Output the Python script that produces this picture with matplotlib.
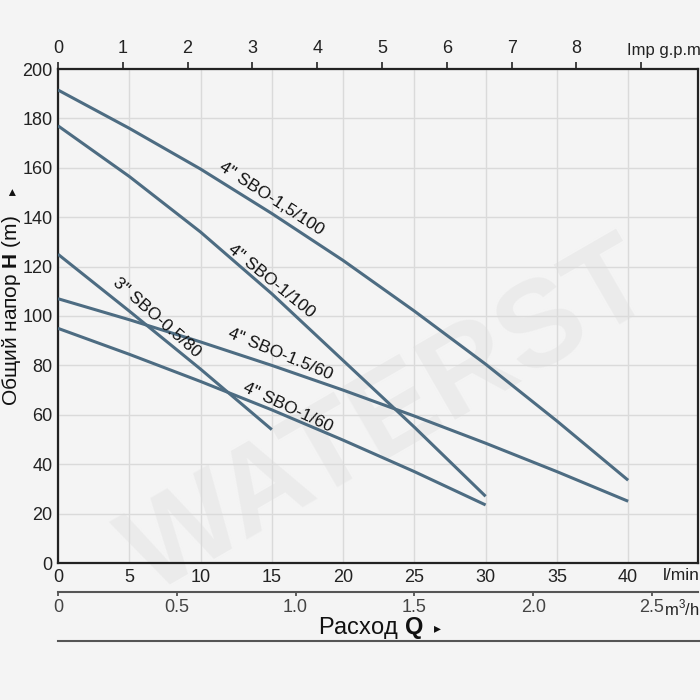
import matplotlib
matplotlib.use("Agg")
import matplotlib.pyplot as plt
import matplotlib.transforms as mtransforms
from matplotlib.lines import Line2D

plt.rcParams['font.family'] = ['Liberation Sans', 'DejaVu Sans']
plt.rcParams['mathtext.fontset'] = 'custom'
plt.rcParams['mathtext.rm'] = 'Liberation Sans'
plt.rcParams['mathtext.bf'] = 'Liberation Sans:bold'

# flow in l/min, head in m
q_sbo15_100 = [0, 5, 10, 15, 20, 25, 30, 35, 40]
h_sbo15_100 = [191.5, 176, 159.5, 141.5, 122.5, 102, 80.5, 57.5, 33.5]

q_sbo1_100 = [0, 5, 10, 15, 20, 25, 30]
h_sbo1_100 = [177, 156.5, 134, 109, 82, 55, 27]

q_sbo05_80 = [0, 5, 10, 15]
h_sbo05_80 = [125, 102, 78.5, 54]

q_sbo15_60 = [0, 5, 10, 15, 20, 25, 30, 35, 40]
h_sbo15_60 = [107, 98.5, 89.5, 80, 70, 59.5, 48.5, 37, 25]

q_sbo1_60 = [0, 5, 10, 15, 20, 25, 30]
h_sbo1_60 = [95, 84.5, 73.5, 62, 49.75, 37, 23.5]

curves = [
    (q_sbo15_100, h_sbo15_100, '4" SBO-1,5/100', 15.0, 147.5, -33),
    (q_sbo1_100, h_sbo1_100, '4" SBO-1/100', 15.0, 114, -39),
    (q_sbo05_80, h_sbo05_80, '3" SBO-0.5/80', 6.95, 99.5, -41.5),
    (q_sbo15_60, h_sbo15_60, '4" SBO-1.5/60', 15.6, 84.5, -22.5),
    (q_sbo1_60, h_sbo1_60, '4" SBO-1/60', 16.1, 63, -25),
]

l_ticks = [0, 5, 10, 15, 20, 25, 30, 35, 40]
h_ticks = [0, 20, 40, 60, 80, 100, 120, 140, 160, 180, 200]
gpm_ticks = [0, 1, 2, 3, 4, 5, 6, 7, 8, 9]
gpm_labels = ['0', '1', '2', '3', '4', '5', '6', '7', '8', '']
m3h_ticks = [0, 0.5, 1.0, 1.5, 2.0, 2.5]
m3h_labels = ['0', '0.5', '1.0', '1.5', '2.0', '2.5']

bg = '#f4f4f4'
line_col = '#4d6c82'
dark = '#222222'
W = 700.0

fig = plt.figure(figsize=(7, 7), dpi=100, facecolor=bg)

# faint watermark behind everything
fig.text(390 / W, 1 - 420 / W, 'WATERST', fontsize=88, fontweight='bold',
         color='#ebebeb', rotation=30, ha='center', va='center', zorder=0)

ax = fig.add_axes([58 / W, 1 - 563 / W, 640 / W, 494 / W])
ax.set_zorder(2)
ax.set_facecolor('none')
ax.set_xlim(0, 44.9)
ax.set_ylim(0, 200)

ax.set_xticks(l_ticks)
ax.set_yticks(h_ticks)
ax.tick_params(axis='both', length=0, labelsize=13, colors=dark)
ax.tick_params(axis='x', pad=4.5)
ax.tick_params(axis='y', pad=4)
ax.grid(True, color='#dadada', lw=1)
ax.set_axisbelow(True)
for s in ax.spines.values():
    s.set_color(dark)
    s.set_linewidth(1.6)

for q, h, name, lx, ly, rot in curves:
    ax.plot(q, h, color=line_col, lw=2.2, solid_capstyle='butt', zorder=3)
    ax.text(lx, ly, name, fontsize=12.5, rotation=rot, rotation_mode='anchor',
            ha='center', va='center', color='#111111', zorder=4)

# top axis: Imp g.p.m
top = ax.secondary_xaxis('top', functions=(lambda x: x / 4.546, lambda g: g * 4.546))
top.set_xticks(gpm_ticks)
top.set_xticklabels(gpm_labels)
top.tick_params(direction='out', length=5, width=1.2, colors=dark, labelsize=13, pad=3.5)
top.spines['top'].set_visible(False)

# lower axis: m3/h
low = ax.secondary_xaxis(-29 / 494.0, functions=(lambda x: x * 0.06, lambda m: m / 0.06))
low.set_xticks(m3h_ticks)
low.set_xticklabels(m3h_labels)
low.tick_params(direction='out', length=3, width=1.2, colors='#444444', labelsize=13, pad=2)
low.spines['bottom'].set_color('#555555')
low.spines['bottom'].set_linewidth(1.5)

trans = mtransforms.blended_transform_factory(ax.transData, ax.transAxes)
ax.text(39.93, (563 - 50) / 494.0, 'Imp g.p.m', transform=trans, fontsize=12,
        ha='left', va='center', color=dark, clip_on=False)
ax.text(42.45, (563 - 576) / 494.0, 'l/min', transform=trans, fontsize=12.5,
        ha='left', va='center', color=dark, clip_on=False)
ax.text(42.5, (563 - 608) / 494.0, 'm$^3$/h', transform=trans, fontsize=12,
        ha='left', va='center', color=dark, clip_on=False)

fig.text(371 / W, 1 - 628 / W, 'Расход $\\mathbf{Q}$', fontsize=17,
         ha='center', va='center', color='#111111')
fig.text(437 / W, 1 - 628 / W, '▸', fontsize=10, family='DejaVu Sans',
         ha='center', va='center', color='#111111')
fig.text(12 / W, 1 - 311 / W, 'Общий напор $\\mathbf{H}$ (m)', fontsize=15,
         rotation=90, ha='center', va='center', color='#111111')
fig.text(12 / W, 1 - 192 / W, '▸', fontsize=10, family='DejaVu Sans', rotation=90,
         ha='center', va='center', color='#111111')

fig.add_artist(Line2D([58 / W, 1.0], [1 - 641 / W, 1 - 641 / W], color='#555555', lw=1.5))

fig.savefig('out.png', dpi=100, facecolor=bg)
